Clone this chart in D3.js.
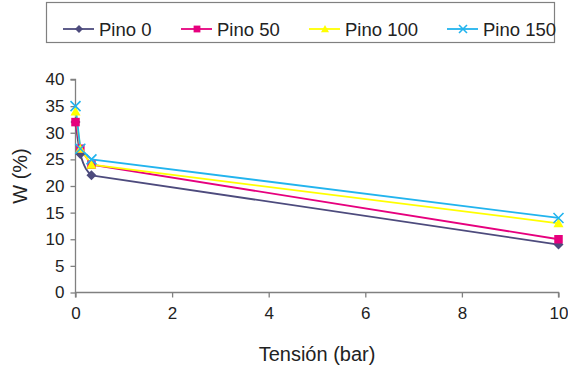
<!DOCTYPE html>
<html><head><meta charset="utf-8">
<script src="https://cdn.jsdelivr.net/npm/d3@7"></script>
<style>body{margin:0;background:#fff}svg{display:block;font-family:"Liberation Sans",Arial,sans-serif}</style>
</head><body><svg id="c" width="568" height="372"></svg>
<script>
const tension = [0, 0.1, 0.33, 10];
const pino0 = [32, 26, 22, 9];
const pino50 = [32, 27, 24, 10];
const pino100 = [34, 27, 24, 13];
const pino150 = [35, 27, 25, 14];
const seriesNames = ["Pino 0", "Pino 50", "Pino 100", "Pino 150"];
const xTicks = [0, 2, 4, 6, 8, 10];
const yTicks = [0, 5, 10, 15, 20, 25, 30, 35, 40];

const colors = ["#4d4b7d", "#e6007e", "#ffff00", "#22b4ee"];
const symbols = ["diamond", "square", "triangle", "x"];
const seriesVals = [pino0, pino50, pino100, pino150];

const svg = d3.select("#c");
const x = d3.scaleLinear().domain([0, 10]).range([75.5, 558.5]);
const y = d3.scaleLinear().domain([0, 40]).range([292.5, 79.5]);
const axisCol = "#808080";

// axes
const gx = svg.append("g").attr("transform", `translate(0,${y(0)})`)
  .call(d3.axisBottom(x).tickValues(xTicks).tickSize(5).tickPadding(9).tickFormat(d3.format("d")));
const gy = svg.append("g").attr("transform", `translate(${x(0)},0)`)
  .call(d3.axisLeft(y).tickValues(yTicks).tickSize(5).tickPadding(6).tickFormat(d3.format("d")));
[gx, gy].forEach(g => {
  g.selectAll("path,line").attr("stroke", axisCol).attr("stroke-width", 1.3);
  g.selectAll("text").attr("fill", "#222").attr("font-size", 17).attr("font-family", "Liberation Sans, Arial, sans-serif");
});
gx.select(".domain").attr("d", `M${x(0)},5V0H${x(10)}V5`);
gy.select(".domain").attr("d", `M-5,${y(40)}H0V${y(0)}`);

// titles
svg.append("text").attr("x", 317).attr("y", 361).attr("text-anchor", "middle")
  .attr("font-size", 20).attr("fill", "#222").text("Tensión (bar)");
svg.append("text").attr("transform", "translate(27,176) rotate(-90)").attr("text-anchor", "middle")
  .attr("font-size", 20).attr("fill", "#222").text("W (%)");

function drawMarker(g, type, color, cx, cy, s) {
  if (type === "diamond") {
    g.append("path").attr("d", `M${cx},${cy-s}L${cx+s},${cy}L${cx},${cy+s}L${cx-s},${cy}Z`).attr("fill", color);
  } else if (type === "square") {
    g.append("rect").attr("x", cx - s*0.85).attr("y", cy - s*0.85).attr("width", s*1.7).attr("height", s*1.7).attr("fill", color);
  } else if (type === "triangle") {
    g.append("path").attr("d", `M${cx},${cy-s}L${cx+s},${cy+s*0.8}L${cx-s},${cy+s*0.8}Z`).attr("fill", color);
  } else {
    g.append("path").attr("d", `M${cx-s},${cy-s}L${cx+s},${cy+s}M${cx-s},${cy+s}L${cx+s},${cy-s}`)
      .attr("stroke", color).attr("stroke-width", 1.6).attr("fill", "none");
  }
}

// lines
seriesVals.forEach((vals, i) => {
  const data = tension.map((t, j) => [t, vals[j]]);
  if (i === 0) {
    const smooth = d3.line().x(d => x(d[0])).y(d => y(d[1])).curve(d3.curveMonotoneX);
    const lin = d3.line().x(d => x(d[0])).y(d => y(d[1]));
    svg.append("path").datum(data.slice(0, 3)).attr("d", smooth).attr("fill", "none")
      .attr("stroke", colors[i]).attr("stroke-width", 1.8);
    svg.append("path").datum(data.slice(2)).attr("d", lin).attr("fill", "none")
      .attr("stroke", colors[i]).attr("stroke-width", 1.8);
  } else {
    const line = d3.line().x(d => x(d[0])).y(d => y(d[1]));
    svg.append("path").datum(data).attr("d", line).attr("fill", "none")
      .attr("stroke", colors[i]).attr("stroke-width", 1.8);
  }
});
// markers
seriesVals.forEach((vals, i) => {
  const g = svg.append("g");
  tension.forEach((t, j) => drawMarker(g, symbols[i], colors[i], x(t), y(vals[j]), 5));
});

// legend
svg.append("rect").attr("x", 46.5).attr("y", 2.5).attr("width", 508).attr("height", 40)
  .attr("fill", "#fff").attr("stroke", "#808080").attr("stroke-width", 1.2);
const legX = [63, 181, 309, 447];
seriesNames.forEach((n, i) => {
  const g = svg.append("g");
  g.append("line").attr("x1", legX[i]).attr("x2", legX[i] + 31).attr("y1", 29).attr("y2", 29)
    .attr("stroke", colors[i]).attr("stroke-width", 1.8);
  drawMarker(g, symbols[i], colors[i], legX[i] + 16, 29, 4);
  g.append("text").attr("x", legX[i] + 36).attr("y", 35.5).attr("font-size", 18.5).attr("fill", "#222").text(n);
});
</script></body></html>
